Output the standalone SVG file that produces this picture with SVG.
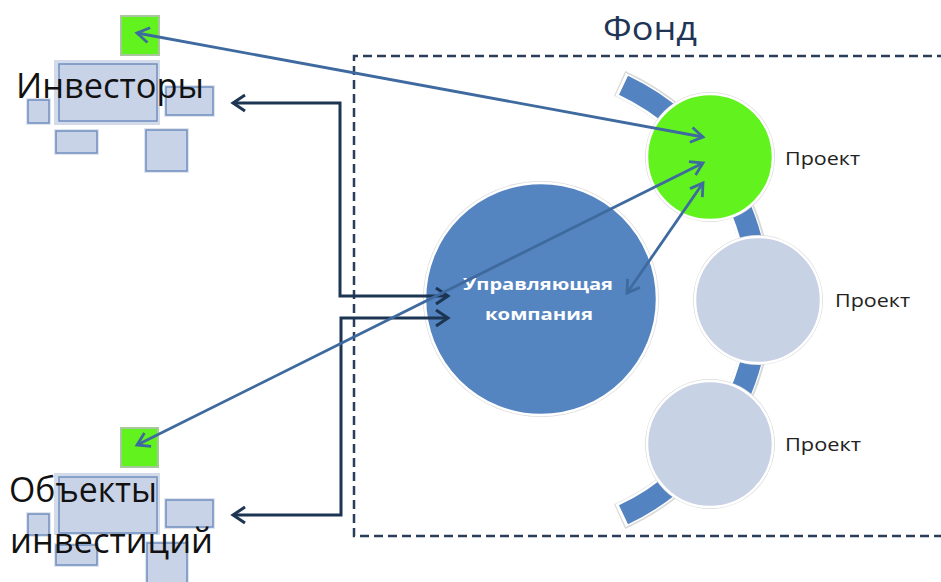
<svg xmlns="http://www.w3.org/2000/svg" width="941" height="582" viewBox="0 0 941 582">
<style>
.ico{fill:#c9d3e7;stroke:#6f8fbf;stroke-width:1.5}
.glow{fill:none;stroke:#dfe4ee;stroke-width:4}
.grn{fill:#62f31e;stroke:#a8c79c;stroke-width:2}
.lbl{font-family:"Open Sans","Liberation Sans",sans-serif;fill:#111}
.proj{font-family:"Open Sans","Liberation Sans",sans-serif;font-size:18px;fill:#222}
.blue{fill:none;stroke:#3f6a9f;stroke-width:2.8}
.navy{fill:none;stroke:#1c3553;stroke-width:3}
.ring{stroke:#ffffff;stroke-width:2.5}
</style>
<defs>
<marker id="ab" markerUnits="userSpaceOnUse" markerWidth="18" markerHeight="22" viewBox="-14 -11 18 22" refX="0" refY="0" orient="auto-start-reverse">
<path d="M-12,-7.5 L0,0 L-12,7.5" fill="none" stroke="#3f6a9f" stroke-width="2.8"/>
</marker>
<marker id="an" markerUnits="userSpaceOnUse" markerWidth="18" markerHeight="22" viewBox="-14 -11 18 22" refX="0" refY="0" orient="auto-start-reverse">
<path d="M-12,-8 L0,0 L-12,8" fill="none" stroke="#1c3553" stroke-width="3"/>
</marker>
</defs>
<rect width="941" height="582" fill="#ffffff"/>

<g id="fund">
<path d="M960,56 H354 V536 H960" fill="none" stroke="#2a3d5a" stroke-width="2.5" stroke-dasharray="9 5"/>
<text x="603" y="40" font-family="'Open Sans','Liberation Sans',sans-serif" font-size="33" fill="#1f3556" textLength="94" lengthAdjust="spacingAndGlyphs">Фонд</text>
</g>

<g id="band">
<path d="M619.7,83.4 A238,238 0 0 1 619.7,516.6" fill="none" stroke="#d9d9d9" stroke-width="27"/>
<path d="M620.6,84.3 A238,238 0 0 1 620.6,515.7" fill="none" stroke="#ffffff" stroke-width="25"/>
<path d="M623.5,85.2 A238,238 0 0 1 623.5,514.8" fill="none" stroke="#5383c0" stroke-width="21"/>
</g>

<g id="manager">
<circle cx="541" cy="299" r="118" fill="#dcdcdc"/>
<circle cx="541" cy="299" r="116" fill="#5585c1" class="ring"/>
<text x="538" y="290" text-anchor="middle" font-family="'Open Sans','Liberation Sans',sans-serif" font-weight="bold" font-size="16" fill="#ffffff" textLength="150" lengthAdjust="spacingAndGlyphs">Управляющая</text>
<text x="539" y="320" text-anchor="middle" font-family="'Open Sans','Liberation Sans',sans-serif" font-weight="bold" font-size="16" fill="#ffffff" textLength="108" lengthAdjust="spacingAndGlyphs">компания</text>
</g>

<g id="project1">
<circle cx="710" cy="157" r="65" fill="#dcdcdc"/>
<circle cx="710" cy="157" r="63" fill="#62f31e" class="ring"/>
<text class="proj" x="785" y="165" textLength="75" lengthAdjust="spacingAndGlyphs">Проект</text>
</g>
<g id="project2">
<circle cx="758" cy="300" r="65" fill="#dcdcdc"/>
<circle cx="758" cy="300" r="63" fill="#c8d2e5" class="ring"/>
<text class="proj" x="835" y="307" textLength="75" lengthAdjust="spacingAndGlyphs">Проект</text>
</g>
<g id="project3">
<circle cx="710" cy="444" r="65" fill="#dcdcdc"/>
<circle cx="710" cy="444" r="63" fill="#c8d2e5" class="ring"/>
<text class="proj" x="785" y="451" textLength="76" lengthAdjust="spacingAndGlyphs">Проект</text>
</g>

<g id="investors">
<rect x="121" y="16" width="38" height="39" class="grn"/>
<rect x="54" y="60" width="106" height="65" fill="#d3dbea"/>
<rect x="59" y="64" width="98" height="57" class="ico"/>
<rect x="28" y="100" width="21" height="23" class="glow"/>
<rect x="28" y="100" width="21" height="23" class="ico"/>
<rect x="166" y="87" width="47" height="28" class="glow"/>
<rect x="166" y="87" width="47" height="28" class="ico"/>
<rect x="56" y="131" width="41" height="22" class="glow"/>
<rect x="56" y="131" width="41" height="22" class="ico"/>
<rect x="146" y="130" width="41" height="41" class="glow"/>
<rect x="146" y="130" width="41" height="41" class="ico"/>
<text class="lbl" x="16" y="98" font-size="34" textLength="188" lengthAdjust="spacingAndGlyphs">Инвесторы</text>
</g>

<g id="objects">
<rect x="121" y="428" width="37" height="39" class="grn"/>
<rect x="54" y="473" width="106" height="62" fill="#d3dbea"/>
<rect x="59" y="477" width="98" height="56" class="ico"/>
<rect x="28" y="514" width="21" height="21" class="glow"/>
<rect x="28" y="514" width="21" height="21" class="ico"/>
<rect x="166" y="500" width="47" height="27" class="glow"/>
<rect x="166" y="500" width="47" height="27" class="ico"/>
<rect x="56" y="545" width="41" height="20" class="glow"/>
<rect x="56" y="545" width="41" height="20" class="ico"/>
<rect x="147" y="543" width="40" height="45" class="glow"/>
<rect x="147" y="543" width="40" height="45" class="ico"/>
<text class="lbl" x="9" y="502" font-size="34" textLength="148" lengthAdjust="spacingAndGlyphs">Объекты</text>
<text class="lbl" x="10" y="553" font-size="34" textLength="203" lengthAdjust="spacingAndGlyphs">инвестиций</text>
</g>

<g id="connectors">
<path class="navy" d="M233,103 H340 V296 H448" marker-start="url(#an)" marker-end="url(#an)"/>
<path class="navy" d="M233,515 H341 V318 H448" marker-start="url(#an)" marker-end="url(#an)"/>
<path class="blue" d="M137,33 L703,137" marker-start="url(#ab)" marker-end="url(#ab)"/>
<path class="blue" d="M137,445 L703,163" marker-start="url(#ab)" marker-end="url(#ab)"/>
<path class="blue" d="M627,293 L703,183" marker-start="url(#ab)" marker-end="url(#ab)"/>
</g>
</svg>
